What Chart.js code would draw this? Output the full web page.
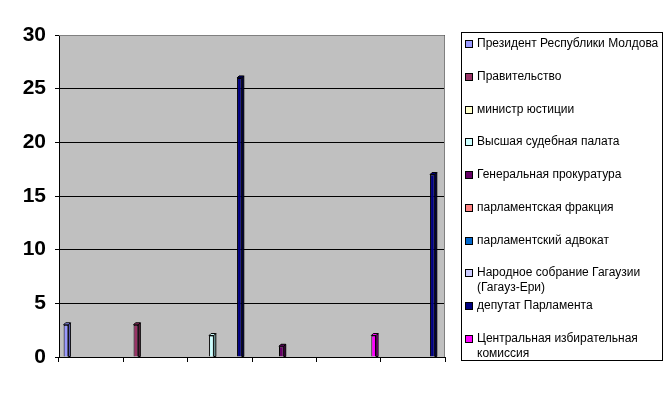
<!DOCTYPE html>
<html>
<head>
<meta charset="utf-8">
<script src="https://cdn.jsdelivr.net/npm/chart.js@4"></script>
<style>
  body { margin: 0; background: #fff; }
  #wrap { position: relative; width: 672px; height: 394px; }
  #myChart { position: absolute; left: 0; top: 0; }
  #legend {
    position: absolute; left: 461px; top: 32px; width: 202px; height: 329px;
    border: 1px solid #000; box-sizing: border-box; background: #fff;
    font-family: "Liberation Sans", Arial, sans-serif; font-size: 12px; color: #000;
  }
  .item { position: absolute; left: 3px; right: -4px; display: flex; line-height: 15px; }
  .box { flex: none; width: 6px; height: 6px; border: 1px solid #000; margin: 4px 4px 0 0; }
</style>
</head>
<body>
<div id="wrap">
  <canvas id="myChart" width="672" height="394"></canvas>
  <div id="legend"></div>
</div>
<script>
// 6 unlabelled groups along the x axis
const categories = ['', '', '', '', '', ''];

const seriesNames = [
    'Президент Республики Молдова',
    'Правительство',
    'министр юстиции',
    'Высшая судебная палата',
    'Генеральная прокуратура',
    'парламентская фракция',
    'парламентский адвокат',
    'Народное собрание Гагаузии (Гагауз-Ери)',
    'депутат Парламента',
    'Центральная избирательная комиссия'
];

// values per series, one per group (null = no bar)
const president   = [3, null, null, null, null, null];
const government  = [null, 3, null, null, null, null];
const justiceMin  = [null, null, null, null, null, null];
const supremeCourt = [null, null, 2, null, null, null];
const prosecutor  = [null, null, null, 1, null, null];
const faction     = [null, null, null, null, null, null];
const ombudsman   = [null, null, null, null, null, null];
const gagauzia    = [null, null, null, null, null, null];
const deputy      = [null, null, 26, null, null, 17];
const electoral   = [null, null, null, null, 2, null];

const yTicks = [0, 5, 10, 15, 20, 25, 30];

const seriesValues = [president, government, justiceMin, supremeCourt, prosecutor,
    faction, ombudsman, gagauzia, deputy, electoral];

// old Excel palette
const colors = ['#9999FF', '#993366', '#FFFFCC', '#CCFFFF', '#660066',
    '#FF8080', '#0066CC', '#CCCCFF', '#000080', '#FF00FF'];
const sideColors = ['#6666CC', '#662244', '#CCCC99', '#99CCCC', '#440044',
    '#CC6060', '#004C99', '#9999CC', '#000050', '#B000B0'];

// grey plot background and frame
const plotBackground = {
    id: 'plotBackground',
    beforeDraw(chart) {
        const { ctx, chartArea: a } = chart;
        ctx.save();
        ctx.fillStyle = '#C0C0C0';
        ctx.fillRect(a.left, a.top, a.right - a.left, a.bottom - a.top);
        ctx.restore();
    },
    afterDraw(chart) {
        const { ctx, chartArea: a } = chart;
        ctx.save();
        ctx.strokeStyle = '#808080';
        ctx.lineWidth = 1;
        ctx.beginPath();
        ctx.moveTo(a.left, a.top + 0.5);
        ctx.lineTo(a.right - 0.5, a.top + 0.5);
        ctx.lineTo(a.right - 0.5, a.bottom);
        ctx.stroke();
        ctx.restore();
    }
};

// small 3D side and top faces on each bar
const barDepth = {
    id: 'barDepth',
    afterDatasetsDraw(chart) {
        const ctx = chart.ctx;
        const d = 2;
        chart.data.datasets.forEach((ds, i) => {
            chart.getDatasetMeta(i).data.forEach((bar, j) => {
                if (ds.data[j] == null) return;
                const { x, y, base, width } = bar.getProps(['x', 'y', 'base', 'width'], true);
                const l = x - width / 2, r = x + width / 2;
                ctx.save();
                ctx.strokeStyle = '#000';
                ctx.lineWidth = 1;
                ctx.fillStyle = sideColors[i];
                ctx.beginPath();
                ctx.moveTo(r, y); ctx.lineTo(r + d, y - d); ctx.lineTo(r + d, base); ctx.lineTo(r, base);
                ctx.closePath(); ctx.fill(); ctx.stroke();
                ctx.fillStyle = colors[i];
                ctx.beginPath();
                ctx.moveTo(l, y); ctx.lineTo(l + d, y - d); ctx.lineTo(r + d, y - d); ctx.lineTo(r, y);
                ctx.closePath(); ctx.fill(); ctx.stroke();
                ctx.restore();
            });
        });
    }
};

function renderChart() {
    const ctx = document.getElementById('myChart').getContext('2d');
    const chart = new Chart(ctx, {
        type: 'bar',
        data: {
            labels: categories,
            datasets: seriesNames.map((name, i) => ({
                label: name,
                data: seriesValues[i],
                backgroundColor: colors[i],
                borderColor: '#000',
                borderWidth: 1,
                categoryPercentage: 10 / 11.5,
                barPercentage: 0.85
            }))
        },
        options: {
            responsive: false,
            animation: false,
            layout: { padding: { left: 0, top: 35, right: 227, bottom: 0 } },
            plugins: {
                legend: { display: false },
                tooltip: { enabled: false }
            },
            scales: {
                x: {
                    grid: { display: true, offset: true, drawOnChartArea: false, tickLength: 5, color: '#000' },
                    border: { color: '#000' },
                    ticks: { display: false },
                    afterFit(scale) { scale.height = 37; }
                },
                y: {
                    min: 0,
                    max: 30,
                    afterBuildTicks(scale) { scale.ticks = yTicks.map(v => ({ value: v })); },
                    grid: { color: '#000', tickLength: 4 },
                    border: { color: '#000' },
                    ticks: {
                        color: '#000',
                        padding: 9,
                        font: { family: '"Liberation Sans", Arial, sans-serif', size: 21, weight: 'bold' }
                    },
                    afterFit(scale) { scale.width = 59; }
                }
            }
        },
        plugins: [plotBackground, barDepth]
    });

    // legend box built from the chart's datasets
    const legend = document.getElementById('legend');
    chart.data.datasets.forEach((ds, i) => {
        const item = document.createElement('div');
        item.className = 'item';
        item.style.top = (3 + i * 32.78) + 'px';
        const box = document.createElement('span');
        box.className = 'box';
        box.style.background = ds.backgroundColor;
        const text = document.createElement('span');
        text.textContent = ds.label;
        item.appendChild(box);
        item.appendChild(text);
        legend.appendChild(item);
    });
}

renderChart();
</script>
</body>
</html>
